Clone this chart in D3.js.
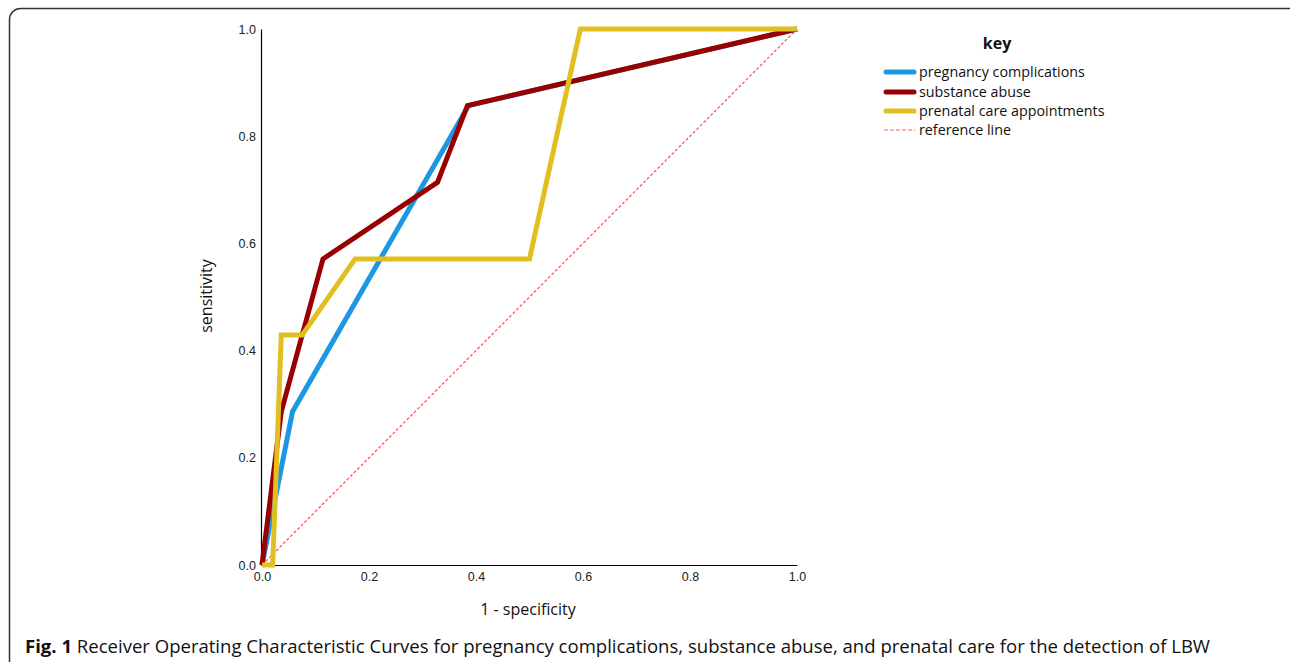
<!doctype html>
<html>
<head>
  <title>ROC curves</title>
  <script src="https://d3js.org/d3.v7.min.js"></script>
  <style>
    body { margin: 0; background: #fff; }
    .tick-label { font-family: 'Liberation Sans', Arial, sans-serif; font-size: 12.5px; fill: #222; }
    .cal { font-family: 'Open Sans', 'Lato', sans-serif; fill: #111; }
  </style>
</head>
<body>
<svg id="chart" width="1290" height="662"></svg>
<script>
  // values
  var seriesNames = ["pregnancy complications", "substance abuse", "prenatal care appointments"];
  var seriesColors = ["#1b97e3", "#990000", "#e2bf20"];
  var pregnancyFpr = [0, 0.057, 0.386, 1];
  var pregnancyTpr = [0, 0.286, 0.857, 1];
  var substanceFpr = [0, 0.036, 0.114, 0.328, 0.384, 1];
  var substanceTpr = [0, 0.286, 0.571, 0.714, 0.857, 1];
  var prenatalFpr = [0, 0.02, 0.036, 0.075, 0.174, 0.5, 0.595, 1];
  var prenatalTpr = [0, 0, 0.429, 0.429, 0.571, 0.571, 1, 1];
  var tickValues = [0, 0.2, 0.4, 0.6, 0.8, 1.0];

  var svg = d3.select("#chart");

  // rounded frame round the figure
  svg.append("rect")
    .attr("x", 9.5).attr("y", 8.5)
    .attr("width", 1290).attr("height", 700)
    .attr("rx", 11).attr("ry", 11)
    .attr("fill", "none").attr("stroke", "#333").attr("stroke-width", 1.5);

  var x = d3.scaleLinear().domain([0, 1]).range([262, 797]);
  var y = d3.scaleLinear().domain([0, 1]).range([565, 29]);

  // axes: plain lines, no tick marks
  var xAxis = svg.append("g").attr("transform", "translate(0,565)")
    .call(d3.axisBottom(x).tickValues(tickValues).tickSize(0).tickPadding(7).tickFormat(d3.format(".1f")));
  var yAxis = svg.append("g").attr("transform", "translate(261,0)")
    .call(d3.axisLeft(y).tickValues(tickValues).tickSize(0).tickPadding(5).tickFormat(d3.format(".1f")));
  [xAxis, yAxis].forEach(function(a) {
    a.select(".domain").attr("stroke", "#000").attr("stroke-width", 1.2);
    a.selectAll("text").attr("class", "tick-label").attr("font-family", null).attr("font-size", null);
  });
  yAxis.selectAll("text").attr("dy", "0.32em");

  // reference line
  svg.append("line")
    .attr("x1", x(0)).attr("y1", y(0)).attr("x2", x(1)).attr("y2", y(1))
    .attr("stroke", "#ff4d4d").attr("stroke-width", 1.2).attr("stroke-dasharray", "3,2");

  var series = [
    {fpr: pregnancyFpr, tpr: pregnancyTpr},
    {fpr: substanceFpr, tpr: substanceTpr},
    {fpr: prenatalFpr, tpr: prenatalTpr}
  ];
  var line = d3.line().x(d => x(d[0])).y(d => y(d[1]));
  series.forEach(function(s, i) {
    var pts = s.fpr.map((f, j) => [f, s.tpr[j]]);
    svg.append("path")
      .attr("d", line(pts))
      .attr("fill", "none")
      .attr("stroke", seriesColors[i])
      .attr("stroke-width", 5)
      .attr("stroke-linejoin", "miter");
  });

  // axis titles
  svg.append("text").attr("class", "cal")
    .attr("x", 528).attr("y", 615).attr("text-anchor", "middle")
    .attr("font-size", 16).text("1 - specificity");
  svg.append("text").attr("class", "cal")
    .attr("transform", "translate(212,296) rotate(-90)").attr("text-anchor", "middle")
    .attr("font-size", 16).text("sensitivity");

  // legend
  svg.append("text").attr("class", "cal")
    .attr("x", 997).attr("y", 49).attr("text-anchor", "middle")
    .attr("font-size", 16).attr("font-weight", "bold").text("key");
  var legendY = [72, 92, 111, 130];
  seriesNames.forEach(function(n, i) {
    svg.append("line")
      .attr("x1", 886).attr("x2", 914).attr("y1", legendY[i]).attr("y2", legendY[i])
      .attr("stroke", seriesColors[i]).attr("stroke-width", 5).attr("stroke-linecap", "round");
    svg.append("text").attr("class", "cal")
      .attr("x", 919).attr("y", legendY[i] + 5).attr("font-size", 14.3).text(n);
  });
  svg.append("line")
    .attr("x1", 884).attr("x2", 915).attr("y1", legendY[3]).attr("y2", legendY[3])
    .attr("stroke", "#ff6b6b").attr("stroke-width", 1.2).attr("stroke-dasharray", "4,2");
  svg.append("text").attr("class", "cal")
    .attr("x", 919).attr("y", legendY[3] + 5).attr("font-size", 14.3).text("reference line");

  // caption
  var cap = svg.append("text").attr("class", "cal")
    .attr("x", 25).attr("y", 653).attr("font-size", 18)
    .attr("textLength", 1185).attr("lengthAdjust", "spacingAndGlyphs");
  cap.append("tspan").attr("font-weight", "bold").text("Fig. 1");
  cap.append("tspan").text(" Receiver Operating Characteristic Curves for pregnancy complications, substance abuse, and prenatal care for the detection of LBW");
</script>
</body>
</html>
